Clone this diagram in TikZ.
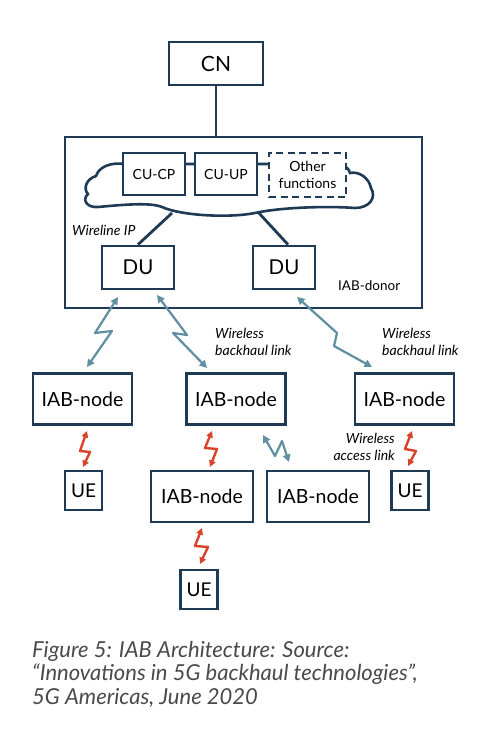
\documentclass[tikz,border=0pt]{standalone}
\usepackage{fontspec}
\setmainfont{Lato}
\usetikzlibrary{arrows.meta,calc}
\definecolor{navy}{HTML}{1F3A55}
\definecolor{bluar}{HTML}{5F8FA0}
\definecolor{redar}{HTML}{D8432B}
\definecolor{capgray}{HTML}{4A4A4A}
\begin{document}
\begin{tikzpicture}[x=1pt,y=-1pt,
  box/.style={draw=navy, line width=2.8pt, fill=white, inner sep=0pt, text=black},
  big/.style={box, font=\fontsize{19.5}{24}\selectfont},
  iab/.style={big, minimum width=99pt, minimum height=51pt},
  ue/.style={box, font=\fontsize{19}{24}\selectfont, minimum width=37pt, minimum height=39pt},
  cu/.style={box, font=\fontsize{14}{17}\selectfont, minimum width=62pt, minimum height=42pt},
  lbl/.style={inner sep=0pt, font=\itshape\fontsize{14}{17}\selectfont, text=black},
  blu/.style={draw=bluar, line width=2.2pt, line join=round, {Triangle[length=7.5pt,width=7.5pt]}-{Triangle[length=7.5pt,width=7.5pt]}},
  red/.style={draw=redar, line width=2.4pt, line join=round, {Triangle[length=6.5pt,width=6.5pt]}-{Triangle[length=6.5pt,width=6.5pt]}},
  conn/.style={draw=navy, line width=2.8pt}]
\useasboundingbox (0,0) rectangle (490,738);
\fill[white] (0,0) rectangle (490,738);

% core network and donor
\node[box, font=\fontsize{21}{24}\selectfont, minimum width=94pt, minimum height=43pt] (cn) at (216,63.5) {CN};
\node[box, fill=none, minimum width=357pt, minimum height=171pt] (donor) at (243.5,222.5) {};
\draw[conn] (cn.south) -- (cn.south |- donor.north);

% cloud
\draw[navy, line width=2.6pt, fill=white]
  (125,164) .. controls (110,162) and (99,167) .. (96,176)
  .. controls (86,179) and (83,189) .. (88,194)
  .. controls (82,199) and (86,208) .. (98,207)
  .. controls (120,205) and (150,202) .. (162,207)
  .. controls (182,216) and (230,218) .. (255,213)
  .. controls (282,207) and (330,206) .. (355,208)
  .. controls (369,208) and (377,198) .. (371,188)
  .. controls (369,178) and (359,171) .. (350,173)
  .. controls (348,166) and (342,164) .. (335,164) -- cycle;
\coordinate (cl1) at (172,213);
\coordinate (cl2) at (258,212);

\node[cu] (cucp) at (154,174) {CU-CP};
\node[cu] (cuup) at (226,174) {CU-UP};
\node[box, dash pattern=on 7pt off 4.5pt, font=\fontsize{14}{17}\selectfont, align=center, minimum width=77pt, minimum height=44pt] (other) at (307.5,175) {Other\\functions};

\node[box, font=\fontsize{20.5}{26}\selectfont, minimum width=72pt, minimum height=43pt] (dul) at (138,267.5) {DU};
\node[box, font=\fontsize{20.5}{26}\selectfont, minimum width=62pt, minimum height=43pt] (dur) at (284,267.5) {DU};
\draw[conn] (cl1) -- (dul.north);
\draw[conn] (cl2) -- ($(dur.north)+(4,0)$);

\node[lbl, anchor=west] (wip) at (72,230) {Wireline IP};
\node[inner sep=0pt, anchor=west, font=\fontsize{13.5}{17}\selectfont] (dlbl) at (338,286) {IAB-donor};

% IAB nodes and UEs
\node[iab] (n1) at (82.5,399) {IAB-node};
\node[iab] (n2) at (236,399) {IAB-node};
\node[iab] (n3) at (404.5,399) {IAB-node};
\node[iab, minimum width=102pt] (n4) at (202,496.5) {IAB-node};
\node[iab, minimum width=102pt] (n5) at (318,496.5) {IAB-node};
\node[ue] (ue1) at (83.5,490.5) {UE};
\node[ue] (ue2) at (410,490.5) {UE};
\node[ue] (ue3) at (199,589.5) {UE};

% wireless backhaul links
\coordinate (a1s) at (118,297); \coordinate (a1e) at (87,367);
\coordinate (a2s) at (157,295); \coordinate (a2e) at (207,368);
\coordinate (a3s) at (297,297); \coordinate (a3e) at (372,367);
\coordinate (a4s) at (263,435); \coordinate (a4e) at (289,462);
\draw[blu] (a1s) -- (95,333) -- (112,331) -- (a1e);
\draw[blu] (a2s) -- (187,335) -- (173,333) -- (a2e);
\draw[blu] (a3s) -- (337,333) -- (334,346) -- (a3e);
\draw[blu] (a4s) -- (275,456) -- (282,441) -- (a4e);

% wireless access links
\coordinate (r1s) at (87,431); \coordinate (r1e) at (83,467);
\coordinate (r2s) at (212,431); \coordinate (r2e) at (210,467);
\coordinate (r3s) at (202,528); \coordinate (r3e) at (200,564);
\coordinate (r4s) at (412,431); \coordinate (r4e) at (408,466);
\draw[red] (r1s) -- (80,451) -- (90,452) -- (r1e);
\draw[red] (r2s) -- (205,448) -- (217,449) -- (r2e);
\draw[red] (r3s) -- (195,546) -- (208,547) -- (r3e);
\draw[red] (r4s) -- (405,449) -- (416,451) -- (r4e);

% labels
\node[lbl, anchor=west, align=left] (wb1) at (215,341.5) {Wireless\\backhaul link};
\node[lbl, anchor=west, align=left] (wb2) at (382,341.5) {Wireless\\backhaul link};
\node[lbl, anchor=east, align=right] (wal) at (395,447) {Wireless\\access link};

% caption
\node[inner sep=0pt, anchor=base west, align=left, text=capgray, font=\itshape\fontsize{22}{23.5}\selectfont] (cap) at (32,704)
  {Figure 5: IAB Architecture: Source:\\“Innovations in 5G backhaul technologies”,\\5G Americas, June 2020};
\end{tikzpicture}
\end{document}
